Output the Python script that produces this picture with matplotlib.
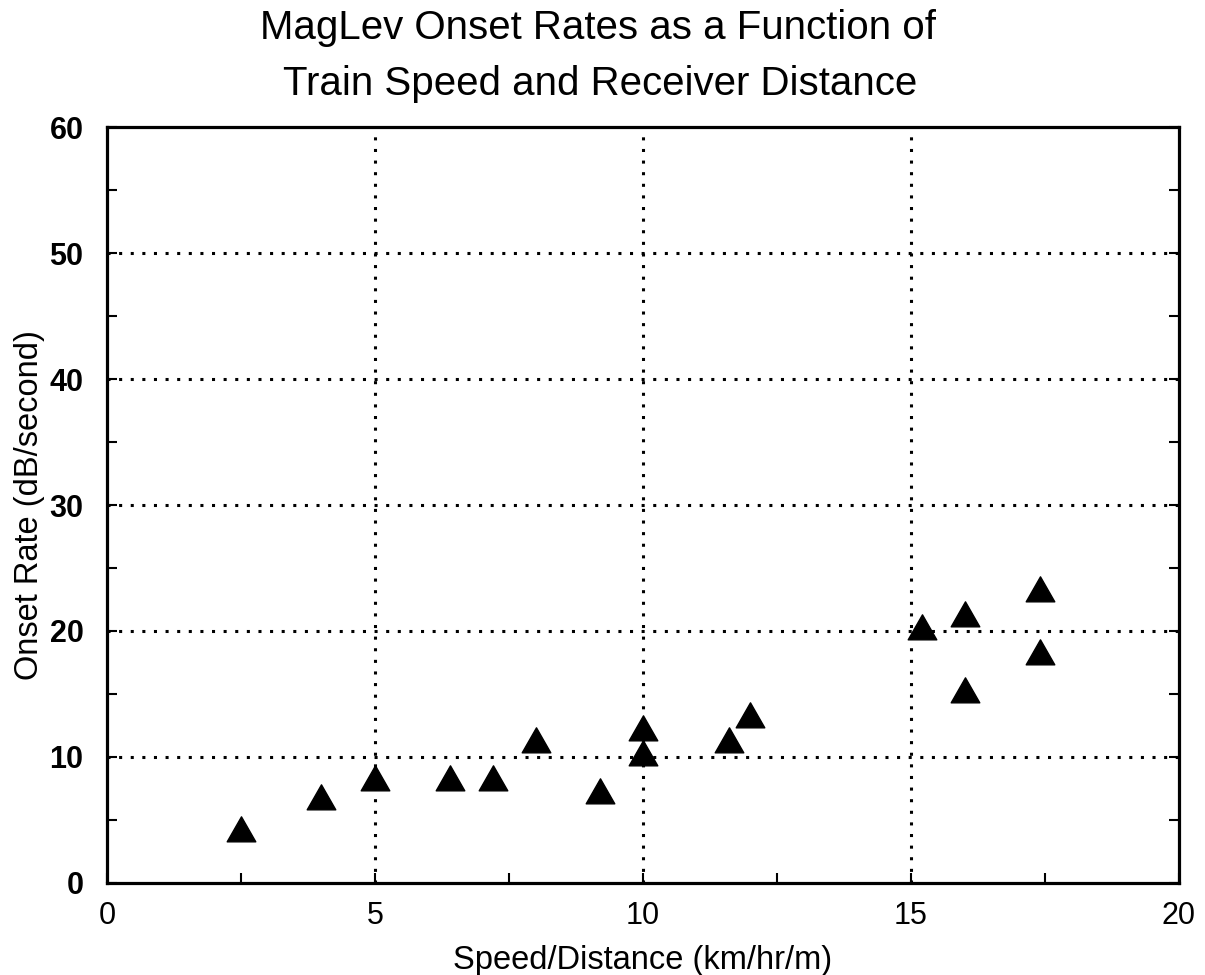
import numpy as np
import matplotlib.pyplot as plt
from matplotlib.path import Path
from matplotlib.ticker import MultipleLocator

# speed/distance (km/hr/m) and onset rate (dB/second)
speed_dist = [2.5, 4.0, 5.0, 6.4, 7.2, 8.0, 9.2, 10.0, 10.0, 11.6, 12.0,
              15.2, 16.0, 16.0, 17.4, 17.4]
onset_rate = [4.0, 6.5, 8.0, 8.0, 8.0, 11.0, 7.0, 12.0, 10.0, 11.0, 13.0,
              20.0, 21.0, 15.0, 23.0, 18.0]

title_lines = ['MagLev Onset Rates as a Function of',
               'Train Speed and Receiver Distance']
xlabel = 'Speed/Distance (km/hr/m)'
ylabel = 'Onset Rate (dB/second)'

plt.rcParams['font.family'] = ['Liberation Sans', 'DejaVu Sans']

# triangle centred on its centroid rather than its bounding box
h = 24.5
w = 28.0
tri = Path([(0, 2 * h / 3), (-w / 2, -h / 3), (w / 2, -h / 3), (0, 2 * h / 3)],
           [Path.MOVETO, Path.LINETO, Path.LINETO, Path.CLOSEPOLY])

fig = plt.figure(figsize=(12.05, 9.75), dpi=100)
ax = fig.add_axes([0.0888, 0.0944, 0.8896, 0.7753])

ax.plot(speed_dist, onset_rate, linestyle='none', marker=tri,
        markersize=24, color='black', clip_on=False, zorder=3)

ax.set_xlim(0, 20)
ax.set_ylim(0, 60)
ax.xaxis.set_major_locator(MultipleLocator(5))
ax.xaxis.set_minor_locator(MultipleLocator(2.5))
ax.yaxis.set_major_locator(MultipleLocator(10))
ax.yaxis.set_minor_locator(MultipleLocator(5))

ax.tick_params(which='both', direction='in', length=7, width=1.5,
               right=True, top=False)
ax.tick_params(axis='x', which='major', labelsize=22, pad=13)
ax.tick_params(axis='y', which='major', labelsize=22, pad=17)
for lab in ax.get_yticklabels():
    lab.set_fontweight('bold')

for s in ax.spines.values():
    s.set_linewidth(2.3)

# dotted grid, skipping the lines that sit on the frame
dots = (0, (1, 2.8))
for xv in [5, 10, 15]:
    ax.axvline(xv, color='black', linestyle=dots, linewidth=2.2, zorder=1)
for yv in [10, 20, 30, 40, 50]:
    ax.axhline(yv, color='black', linestyle=dots, linewidth=2.2, zorder=1)

ax.set_xlabel(xlabel, fontsize=23.5, labelpad=10)
ax.set_ylabel(ylabel, fontsize=23.5, labelpad=3)

fig.text(0.496, 1 - 28 / 975, title_lines[0], ha='center', va='center', fontsize=29)
fig.text(0.498, 1 - 84 / 975, title_lines[1], ha='center', va='center', fontsize=29)

fig.savefig('out.png', dpi=100)
